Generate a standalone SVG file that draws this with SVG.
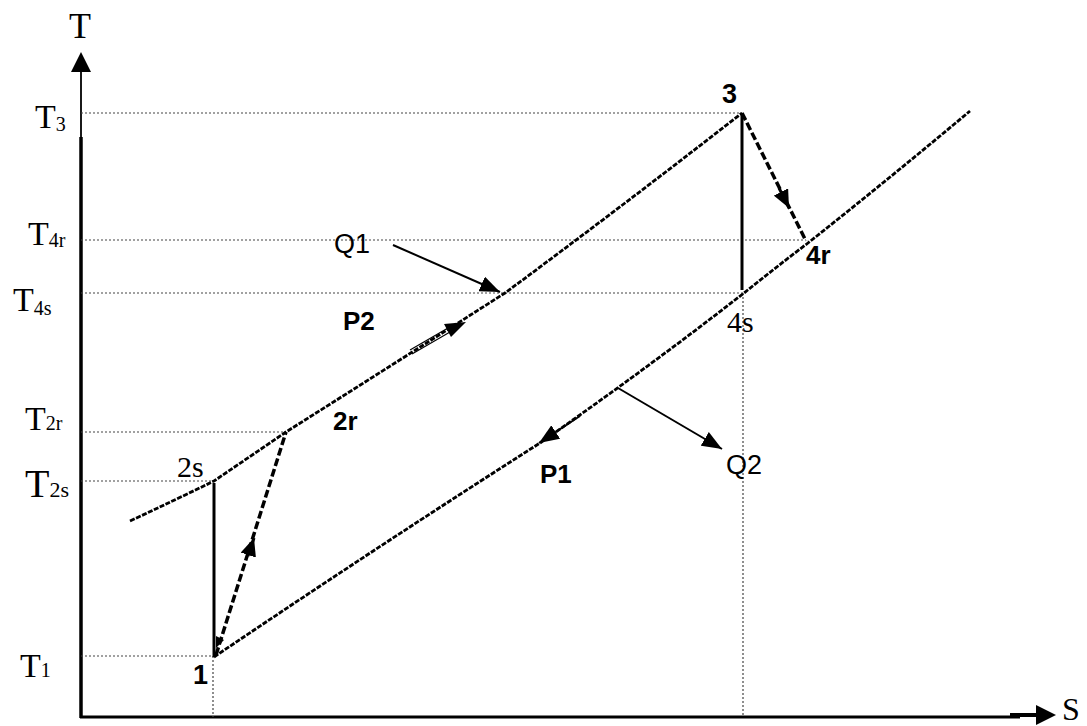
<svg xmlns="http://www.w3.org/2000/svg" width="1087" height="726" viewBox="0 0 1087 726">
<style>
.guide{stroke:#444;stroke-width:1.2;stroke-dasharray:2 2;fill:none}
.curve{stroke:#000;stroke-width:2.8;stroke-dasharray:5 1.5;fill:none}
.proc{stroke:#000;stroke-width:3.5;stroke-dasharray:8 3;fill:none}
.solid{stroke:#000;stroke-width:3;fill:none}
.thin{stroke:#000;stroke-width:2;fill:none}
.serif{font-family:"Liberation Serif","Times New Roman",serif;fill:#000}
.sans{font-family:"Liberation Sans",Arial,sans-serif;fill:#000}
.bold{font-family:"Liberation Sans",Arial,sans-serif;font-weight:bold;fill:#000}
</style>
<defs>
<marker id="arr" markerUnits="userSpaceOnUse" markerWidth="22" markerHeight="16" refX="20" refY="8" orient="auto"><path d="M0,0 L20,8 L0,16 z" fill="#000"/></marker>
<marker id="arrS" markerUnits="userSpaceOnUse" markerWidth="20" markerHeight="16" refX="18" refY="8" orient="auto"><path d="M0,0 L18,8 L0,16 z" fill="#000"/></marker>
</defs>
<rect width="1087" height="726" fill="#fff"/>
<g id="axes">
<line x1="81" y1="137" x2="81" y2="718" stroke="#000" stroke-width="3.5"/>
<line x1="81" y1="140" x2="81" y2="68" stroke="#000" stroke-width="1.8"/>
<path d="M81,52 L71,72 L91,72 z" fill="#000"/>
<line x1="80" y1="717" x2="1020" y2="717" stroke="#000" stroke-width="3"/>
<line x1="1010" y1="715" x2="1038" y2="715" stroke="#000" stroke-width="4"/>
<path d="M1056,715 L1036,705 L1036,725 z" fill="#000"/>
<text class="serif" x="80" y="38" font-size="36" text-anchor="middle">T</text>
<text class="serif" x="1062" y="720" font-size="32">S</text>
</g>
<g id="guides">
<line class="guide" x1="81" y1="113" x2="742" y2="113"/>
<line class="guide" x1="81" y1="240" x2="806" y2="240"/>
<line class="guide" x1="81" y1="293" x2="744" y2="293"/>
<line class="guide" x1="81" y1="432" x2="286" y2="432"/>
<line class="guide" x1="81" y1="481" x2="214" y2="481"/>
<line class="guide" x1="81" y1="656" x2="214" y2="656"/>
<line class="guide" x1="213" y1="656" x2="213" y2="717"/>
<line class="guide" x1="743" y1="293" x2="743" y2="717"/>
</g>
<g id="axis-labels">
<text class="serif" x="35" y="128" font-size="34">T<tspan font-size="20" dy="3">3</tspan></text>
<text class="serif" x="28" y="245" font-size="34">T<tspan font-size="20" dy="2">4r</tspan></text>
<text class="serif" x="13" y="311" font-size="34">T<tspan font-size="20" dy="4">4s</tspan></text>
<text class="serif" x="25" y="430" font-size="34">T<tspan font-size="20">2r</tspan></text>
<text class="serif" x="25" y="497" font-size="40">T<tspan font-size="22">2s</tspan></text>
<text class="serif" x="20" y="677" font-size="34">T<tspan font-size="20">1</tspan></text>
</g>
<g id="connectors">
<path id="isobar-P2" class="curve" d="M130,521 Q175,500 214,481 L286,432 Q400,360 505,293 Q620,208 742,113"/>
<path id="isobar-P1" class="curve" d="M214,657 Q380,545 540,443 Q645,370 744,293 Q775,268 808,243 Q890,178 970,111"/>
<line id="comp-isen" class="solid" x1="214" y1="657" x2="214" y2="483"/>
<line id="turb-isen" class="solid" x1="742" y1="113" x2="742" y2="290"/>
<line id="comp-real" class="proc" x1="216" y1="655" x2="286" y2="432"/>
<line id="turb-real" class="proc" x1="742" y1="113" x2="806" y2="241"/>
<line class="solid" x1="248" y1="556" x2="254" y2="538" marker-end="url(#arrS)" stroke-width="2"/>
<line class="solid" x1="779" y1="188" x2="789" y2="208" marker-end="url(#arrS)" stroke-width="2"/>
<path d="M216,648 L224,640 L216,636 z" fill="#000"/>
<line id="q1-arrow" class="thin" x1="393" y1="245" x2="500" y2="292" marker-end="url(#arr)"/>
<line id="q2-arrow" class="thin" x1="618" y1="388" x2="722" y2="449" marker-end="url(#arr)"/>
<g id="p2-arrow">
<line x1="410" y1="350" x2="448" y2="328" stroke="#000" stroke-width="1.2"/>
<line x1="412" y1="354" x2="450" y2="332" stroke="#000" stroke-width="1.2"/>
<path d="M466,322 L444,324 L451,337 z" fill="#000"/>
</g>
<line id="p1-arrow" class="thin" x1="580" y1="416" x2="539" y2="443" marker-end="url(#arr)"/>
</g>
<g id="node-1"><text class="bold" x="193" y="684" font-size="27">1</text></g>
<g id="node-2s"><text class="serif" x="177" y="477" font-size="30">2s</text></g>
<g id="node-2r"><text class="bold" x="333" y="430" font-size="26">2r</text></g>
<g id="node-3"><text class="bold" x="722" y="103" font-size="27">3</text></g>
<g id="node-4s"><text class="serif" x="727" y="332" font-size="30">4s</text></g>
<g id="node-4r"><text class="bold" x="806" y="264" font-size="26">4r</text></g>
<g id="label-Q1"><text class="sans" x="334" y="253" font-size="27">Q1</text></g>
<g id="label-Q2"><text class="sans" x="726" y="474" font-size="27">Q2</text></g>
<g id="label-P1"><text class="bold" x="540" y="483" font-size="26">P1</text></g>
<g id="label-P2"><text class="bold" x="343" y="330" font-size="26">P2</text></g>
</svg>
